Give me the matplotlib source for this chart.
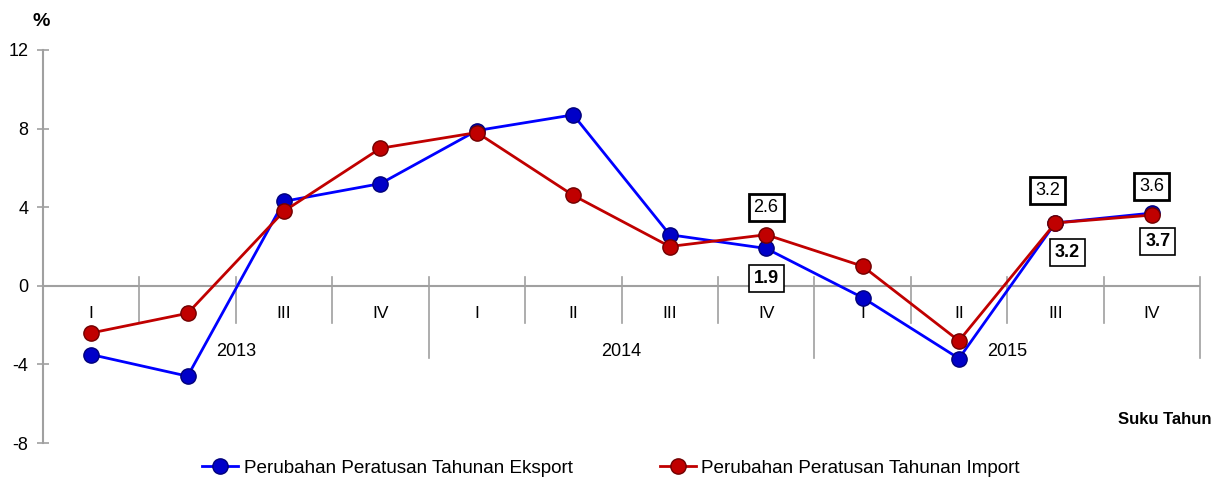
import matplotlib
matplotlib.use("Agg")
import matplotlib.pyplot as plt
import numpy as np

plt.rcParams['font.family'] = ['Liberation Sans', 'DejaVu Sans']

quarters = ["I", "II", "III", "IV"] * 3
years = ["2013", "2014", "2015"]
eksport = [-3.5, -4.6, 4.3, 5.2, 7.9, 8.7, 2.6, 1.9, -0.6, -3.7, 3.2, 3.7]
import_ = [-2.4, -1.4, 3.8, 7.0, 7.8, 4.6, 2.0, 2.6, 1.0, -2.8, 3.2, 3.6]
label_eks = "Perubahan Peratusan Tahunan Eksport"
label_imp = "Perubahan Peratusan Tahunan Import"

# which points get a value box, and pixel offsets of the box
imp_boxes = {7: (0, 27), 10: (-8, 32), 11: (0, 29)}
eks_boxes = {7: (0, -30), 10: (12, -30), 11: (6, -28)}

grey = "#a0a0a0"
blue = "#0000ff"
red = "#c00000"

fig = plt.figure(figsize=(12.23, 4.8), dpi=100)
ax = fig.add_axes([43 / 1223, 37 / 480, 1157 / 1223, 393 / 480])
px_per_unit = 393 / 20

x = np.arange(len(quarters))
ax.set_xlim(-0.5, len(quarters) - 0.5)
ax.set_ylim(-8, 12)

for s in ["top", "right", "bottom"]:
    ax.spines[s].set_visible(False)
ax.spines["left"].set_color(grey)
ax.spines["left"].set_linewidth(1.5)
ax.set_yticks([-8, -4, 0, 4, 8, 12])
ax.set_yticklabels(["-8", "-4", "0", "4", "8", "12"])
ax.tick_params(axis="y", direction="inout", length=9, width=1.2, color=grey,
               labelsize=13, pad=6)
ax.set_xticks([])

# zero line with category separators (longer ones between years)
ax.axhline(0, color=grey, lw=1.5, zorder=1)
for i in range(1, len(quarters) + 1):
    bottom = -72 if i % 4 == 0 else -37
    ax.plot([i - 0.5, i - 0.5], [9 / px_per_unit, bottom / px_per_unit],
            color=grey, lw=1.2, zorder=1, clip_on=False)

for i, q in enumerate(quarters):
    ax.annotate(q, xy=(i, 0), xytext=(0, -28), textcoords="offset pixels",
                ha="center", va="center", fontsize=12.5)
for j, yr in enumerate(years):
    ax.annotate(yr, xy=(4 * j + 1.5, 0), xytext=(0, -66), textcoords="offset pixels",
                ha="center", va="center", fontsize=13)

ax.plot(x, eksport, color=blue, lw=2, marker="o", markersize=11,
        markerfacecolor="#0000c8", markeredgecolor="#00007a", markeredgewidth=1,
        zorder=3, label=label_eks)
ax.plot(x, import_, color=red, lw=2, marker="o", markersize=11,
        markerfacecolor="#c00000", markeredgecolor="#700000", markeredgewidth=1,
        zorder=4, label=label_imp)

for i, (dx, dy) in imp_boxes.items():
    ax.annotate(f"{import_[i]:.1f}", xy=(i, import_[i]), xytext=(dx, dy),
                textcoords="offset pixels", ha="center", va="center", fontsize=13,
                bbox=dict(boxstyle="square,pad=0.28", fc="white", ec="black", lw=2))
for i, (dx, dy) in eks_boxes.items():
    ax.annotate(f"{eksport[i]:.1f}", xy=(i, eksport[i]), xytext=(dx, dy),
                textcoords="offset pixels", ha="center", va="center", fontsize=13,
                fontweight="bold",
                bbox=dict(boxstyle="square,pad=0.28", fc="white", ec="black", lw=1.2))

fig.text(41 / 1223, 1 - 22 / 480, "%", ha="center", va="center", fontsize=14,
         fontweight="bold")
fig.text(1165 / 1223, 1 - 420 / 480, "Suku Tahun", ha="center", va="center",
         fontsize=12, fontweight="bold")

fig.legend(loc="center", bbox_to_anchor=(611 / 1223, 1 - 468 / 480), ncol=2,
           frameon=False, fontsize=13.6, handlelength=1.9, columnspacing=4.6,
           handletextpad=0.3)

fig.savefig("out.png", dpi=100)
